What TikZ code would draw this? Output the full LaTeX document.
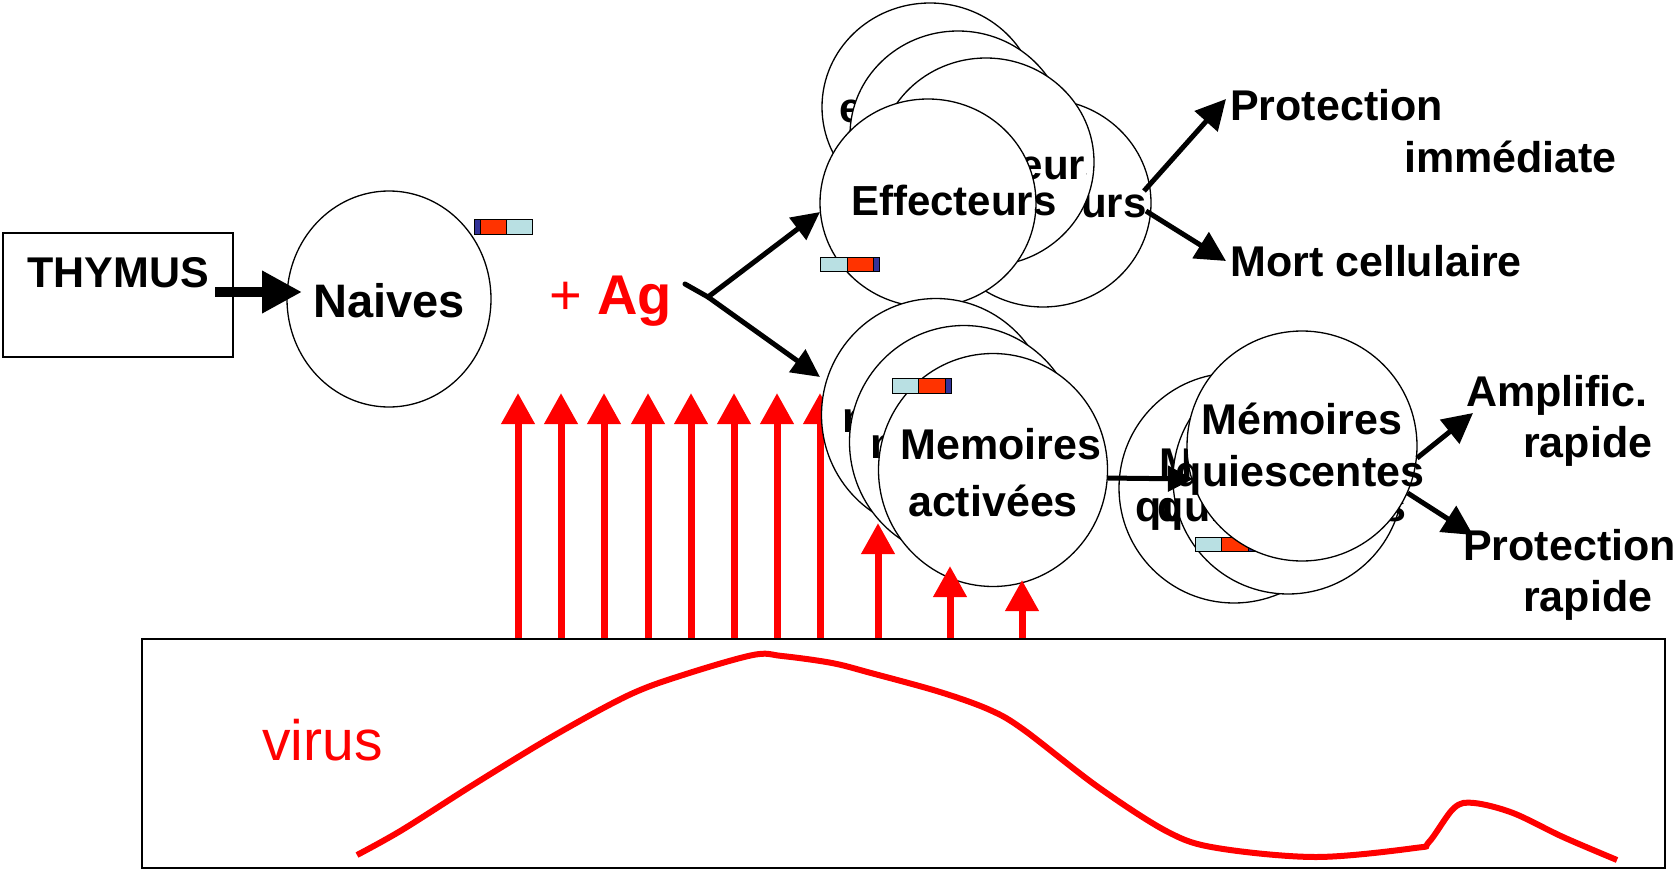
\documentclass[tikz,border=0pt]{standalone}
\usepackage{fontspec}
\setmainfont{Liberation Sans}
\usetikzlibrary{shapes.geometric,arrows.meta}
\definecolor{barblue}{RGB}{185,224,227}
\definecolor{barred}{RGB}{255,51,0}
\definecolor{bardark}{RGB}{51,51,153}
\begin{document}
\begin{tikzpicture}[x=1pt,y=-1pt,
  cell/.style={ellipse, draw, fill=white, line width=1.3pt, inner sep=0pt},
  effcell/.style={cell, minimum width=216pt, minimum height=208pt},
  memcell/.style={cell, minimum width=229pt, minimum height=233pt},
  qcell/.style={cell, minimum width=230pt, minimum height=230pt},
  lbl/.style={font=\bfseries\fontsize{43}{50}\selectfont, inner sep=0pt, anchor=base},
  efftxt/.style={lbl, font=\bfseries\fontsize{42}{50}\selectfont},
  lblw/.style={lbl, anchor=base west},
  barseg/.style={draw=black, line width=0.8pt},
  blackarrow/.style={line width=5pt, -{Triangle[length=30pt,width=30pt]}},
  agarrow/.style={line width=5pt, line cap=round, -{Triangle[length=28pt,width=27pt]}},
  redarrow/.style={draw=red, line width=7pt, -{Triangle[length=31pt,width=32pt]}},
  virusline/.style={draw=red, line width=6pt}
]
\useasboundingbox (0,0) rectangle (1678,869);

% ---- virus panel
\node[draw, line width=2pt, minimum width=1523pt, minimum height=229pt, inner sep=0pt, anchor=north west] (vbox) at (141,638) {};
\node[font=\fontsize{57}{60}\selectfont, text=red, inner sep=0pt, anchor=base west] (virus) at (262,760) {virus};
\draw[virusline] plot[smooth, tension=0.55] coordinates {(357,855) (402,830) (476,783) (555,735) (629,695) (683,675) (753,655) (782,656) (832,663) (871,673) (940,692) (990,710) (1024,730) (1098,787) (1168,832) (1217,848) (1316,857) (1415,848) (1429,842) (1454,808) (1474,803) (1513,813) (1563,837) (1617,860)};

% ---- thymus and naives
\node[draw, line width=1.5pt, minimum width=230pt, minimum height=124pt, inner sep=0pt] (thymus) at (118,295) {};
\node[lbl] (thymustxt) at (118,287) {THYMUS};
\node[cell, minimum width=204pt, minimum height=216pt] (naives) at (389,299) {};
\node[lbl, font=\bfseries\fontsize{47}{52}\selectfont] (naivestxt) at (389,317) {Naives};
\coordinate (thstart) at (215,292);
\coordinate (thtip) at (302,292);
\draw[line width=10pt, -{Triangle[length=40pt,width=40pt]}] (thstart) -- (thtip);
\filldraw[barseg, fill=bardark] (474,219) rectangle (480,234);
\filldraw[barseg, fill=barred] (480,219) rectangle (506,234);
\filldraw[barseg, fill=barblue] (506,219) rectangle (532,234);

% ---- + Ag
\node[font=\fontsize{56}{60}\selectfont, text=red, inner sep=0pt, anchor=base west] (ag) at (549,314) {+ \textbf{Ag}};

% ---- red arrows behind the memory cells
\foreach \i/\x in {1/518,2/561,3/604,4/648,5/691,6/734,7/777,8/820} {
  \coordinate (rt\i) at (\x,393);
  \draw[redarrow] (vbox.north -| rt\i) -- (rt\i);
}

% ---- effector cells
\node[effcell] (ea) at (930,107) {};
\node[efftxt] (eatxt) at (940,123) {effecteurs};
\node[effcell] (eb) at (958,135) {};
\node[effcell] (ed) at (1043,203) {};
\node[efftxt] (edtxt) at (1044,218) {Effecteurs};
\node[effcell] (ec) at (986,162) {};
\begin{scope}
  \clip (986,162) ellipse [x radius=107pt, y radius=103pt];
  \clip (800,40) rectangle (1086,260);
  \node[efftxt] (ectxt) at (1006,180) {Effecteurs};
\end{scope}
\node[effcell] (ee) at (928,203) {};
\node[efftxt] (eetxt) at (954,215) {Effecteurs};
\filldraw[barseg, fill=barblue] (820,257) rectangle (847,271);
\filldraw[barseg, fill=barred] (847,257) rectangle (873,271);
\filldraw[barseg, fill=bardark] (873,257) rectangle (879,271);

% ---- connectors from Ag
\coordinate (agstart) at (685,284);
\coordinate (fork) at (708,297);
\coordinate (tipE) at (820,212);
\coordinate (tipM) at (820,377);
\draw[line width=5pt, line cap=round] (agstart) -- (fork);
\draw[agarrow] (fork) -- (tipE);
\draw[agarrow] (fork) -- (tipM);

% ---- effector outcomes
\coordinate (es1) at (1144,191);
\coordinate (es2) at (1146,211);
\node[lblw] (prot1) at (1230,121) {Protection};
\node[lblw] (immed) at (1404,173) {immédiate};
\node[lblw] (mort) at (1230,276) {Mort cellulaire};
\coordinate (tipP) at (1226,99);
\coordinate (tipD) at (1226,261);
\draw[blackarrow] (es1) -- (tipP);
\draw[blackarrow] (es2) -- (tipD);

% ---- activated memory cells
\node[memcell] (m1) at (936,415) {};
\node[lbl] (m1txt) at (944,432) {memoires};
\node[memcell] (m2) at (964,442) {};
\node[lbl] (m2txt) at (972,458) {memoires};
\node[memcell] (m3) at (993,470) {};
\node[lbl] (m3a) at (1001,459) {Memoires};
\node[lbl] (m3b) at (993,516) {activées};
\filldraw[barseg, fill=barblue] (892,378) rectangle (918,393);
\filldraw[barseg, fill=barred] (918,378) rectangle (945,393);
\filldraw[barseg, fill=bardark] (945,378) rectangle (951,393);

% ---- red arrows over the memory cells
\foreach \i/\x/\t in {9/878/523,10/950/566,11/1022/580} {
  \coordinate (rt\i) at (\x,\t);
  \draw[redarrow] (vbox.north -| rt\i) -- (rt\i);
}

% ---- quiescent memory cells
\node[qcell] (q1) at (1234,488) {};
\node[lbl] (q1a) at (1260,478) {Mémoires};
\node[lbl] (q1b) at (1260,521) {quiescentes};
\node[qcell] (q2) at (1288,479) {};
\node[lbl] (q2a) at (1282,478) {Mémoires};
\node[lbl] (q2b) at (1282,521) {quiescentes};
\coordinate (qtip) at (1193,479);
\draw[line width=5pt, -{Triangle[length=25pt,width=25pt]}] (m3.-4.5) -- (qtip);
\filldraw[barseg, fill=barblue] (1195,537) rectangle (1221,551);
\filldraw[barseg, fill=barred] (1221,537) rectangle (1248,551);
\filldraw[barseg, fill=bardark] (1248,537) rectangle (1254,551);
\node[qcell] (q3) at (1302,446) {};
\node[lbl] (q3a) at (1302,434) {Mémoires};
\node[lbl] (q3b) at (1300,486) {quiescentes};

% ---- memory outcomes
\node[lblw] (ampl) at (1466,406) {Amplific.};
\node[lblw] (rap1) at (1523,457) {rapide};
\node[lblw] (prot2) at (1463,560) {Protection};
\node[lblw] (rap2) at (1523,611) {rapide};
\coordinate (tipA) at (1473,413);
\coordinate (tipR) at (1473,535);
\draw[blackarrow] (q3.-6) -- (tipA);
\draw[blackarrow] (q3.-24) -- (tipR);
\end{tikzpicture}
\end{document}
